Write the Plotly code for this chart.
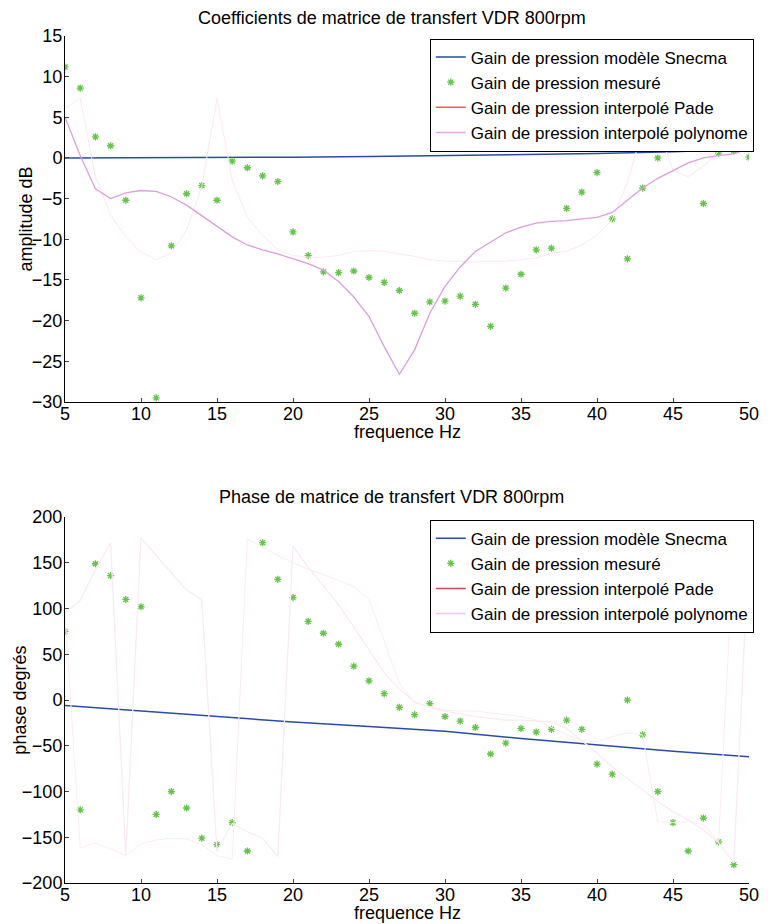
import plotly.graph_objects as go

# frequency grid (Hz)
freq = list(range(5, 51))
freq_model = [5, 10, 15, 20, 25, 30, 35, 40, 45, 50]

# --- amplitude (dB)
amp_model = [0.0, 0.02, 0.05, 0.1, 0.18, 0.28, 0.4, 0.55, 0.75, 1.1]
amp_mesure = [11.2, 8.6, 2.6, 1.5, -5.2, -17.2, -29.5, -10.8, -4.4, -3.4,
              -5.2, -0.4, -1.2, -2.2, -2.9, -9.1, -12.0, -14.0, -14.1, -13.9,
              -14.7, -15.3, -16.3, -19.1, -17.7, -17.6, -17.0, -18.0, -20.7, -16.0,
              -14.3, -11.3, -11.1, -6.2, -4.2, -1.8, -7.5, -12.4, -3.7, 0.0,
              2.8, 3.1, -5.6, 0.6, 0.9, 0.1]
amp_pade = [6.1, 7.4, -2.3, -7.0, -9.7, -11.6, -12.5, -11.7, -8.9, -3.5,
            7.3, -2.7, -7.3, -9.5, -11.3, -12.0, -12.2, -12.2, -12.0, -11.5,
            -11.4, -11.5, -11.8, -12.1, -12.5, -12.7, -12.7, -12.8, -12.7, -12.7,
            -12.5, -12.3, -11.7, -11.5, -10.7, -9.5, -7.6, -3.0, 3.5, 3.8,
            -1.5, -2.3, -1.0, 0.8, 1.2, -0.6]
amp_poly = [5.0, 0.3, -3.8, -5.0, -4.3, -4.0, -4.1, -4.8, -5.8, -7.1,
            -8.5, -9.7, -10.7, -11.3, -11.8, -12.4, -13.0, -13.8, -15.2, -17.1,
            -19.5, -23.2, -26.6, -23.6, -19.1, -15.8, -13.4, -11.5, -10.3, -9.2,
            -8.5, -8.0, -7.8, -7.7, -7.5, -7.3, -6.7, -5.2, -3.7, -2.5,
            -1.5, -0.6, 0.0, 0.3, 0.5, 1.2]

# --- phase (degrés)
ph_model = [-6, -12, -18, -24, -29, -34, -42, -49, -56, -62]
ph_mesure = [75, -120, 149, 136, 110, 102, -125, -100, -118, -151,
             -158, -134, -165, 172, 132, 112, 86, 73, 61, 37,
             21, 7, -8, -16, -4, -18, -23, -30, -59, -47,
             -31, -35, -32, -22, -32, -70, -81, 0, -38, -100,
             -134, -165, -129, -155, -180, 160]
ph_pade = [95, -162, -156, -163, -170, -157, -153, -151, -152, -158,
           -170, -174, 176, 167, 158, 150, 143, 137, 131, 124,
           110, 65, 18, -3, -7, -11, -12, -12, -14, -16,
           -18, -22, -30, -38, -44, -46, -40, -36, -38, -133,
           -134, -133, -136, -155, 170, 160]
ph_poly = [95, 109, 142, 172, -170, 177, 158, 139, 120, 110,
           -165, -135, -144, -151, -171, 168, 145, 125, 104, 80,
           55, 30, 12, -2, -8, -12, -15, -18, -20, -22,
           -22, -23, -24, -31, -44, -58, -73, -86, -98, -111,
           -122, -131, -142, -156, -178, 170]

noms = ["Gain de pression modèle Snecma", "Gain de pression mesuré",
        "Gain de pression interpolé Pade", "Gain de pression interpolé polynome"]

FONT = "Liberation Sans, Arial, sans-serif"
bleu = "#2b4ba6"
vert = "#66c44c"

fig = go.Figure()


def add_panel(fig, xa, ya, leg, model, mesure, pade, poly, pade_col, poly_col, pade_leg, poly_leg):
    fig.add_trace(go.Scatter(x=freq_model, y=model, mode="lines", name=noms[0],
                             line=dict(color=bleu, width=1.5), xaxis=xa, yaxis=ya,
                             legend=leg, legendrank=1))
    fig.add_trace(go.Scatter(x=freq, y=mesure, mode="markers", name=noms[1],
                             marker=dict(symbol="asterisk-open", size=6, color=vert,
                                         line=dict(color=vert, width=1.3)),
                             xaxis=xa, yaxis=ya, legend=leg, legendrank=2))
    fig.add_trace(go.Scatter(x=freq, y=pade, mode="lines", showlegend=False,
                             line=dict(color=pade_col, width=1), xaxis=xa, yaxis=ya))
    fig.add_trace(go.Scatter(x=freq, y=poly, mode="lines", showlegend=False,
                             line=dict(color=poly_col, width=1.3), xaxis=xa, yaxis=ya))
    # legend entries keep the solid colours
    fig.add_trace(go.Scatter(x=[None], y=[None], mode="lines", name=noms[2],
                             line=dict(color=pade_leg, width=1.5), xaxis=xa, yaxis=ya,
                             legend=leg, legendrank=3))
    fig.add_trace(go.Scatter(x=[None], y=[None], mode="lines", name=noms[3],
                             line=dict(color=poly_leg, width=1.5), xaxis=xa, yaxis=ya,
                             legend=leg, legendrank=4))


add_panel(fig, "x", "y", "legend", amp_model, amp_mesure, amp_pade, amp_poly,
          "#fce7ed", "#dc9edc", "#ff5a5a", "#e8a8e8")
add_panel(fig, "x2", "y2", "legend2", ph_model, ph_mesure, ph_pade, ph_poly,
          "#fdebef", "#f9eaf3", "#d04858", "#f0c8ec")

axis_common = dict(ticks="inside", ticklen=4, tickcolor="#444", showline=True,
                   linecolor="black", linewidth=1, showgrid=False, zeroline=False,
                   tickfont=dict(family=FONT, size=18, color="black"))
xax = dict(range=[5, 50], dtick=5, ticklabelstandoff=-5, domain=[0, 1], **axis_common)
yax = dict(ticklabelstandoff=-2, **axis_common)

top_dom = [0.568, 1.0]
bot_dom = [0.0, 0.432]

legend_common = dict(xref="paper", yref="paper", xanchor="right", yanchor="top",
                     bgcolor="white", bordercolor="black", borderwidth=1,
                     font=dict(family=FONT, size=17, color="black"),
                     itemwidth=30, tracegroupgap=0)

# the page body adds 8px around the graph div, so the figure is 8px smaller
fig.update_layout(
    width=763, height=916,
    margin=dict(l=57, r=13, t=28, b=41),
    paper_bgcolor="white", plot_bgcolor="white",
    font=dict(family=FONT, size=18, color="black"),
    xaxis=dict(anchor="y", **xax),
    yaxis=dict(range=[-30, 15], dtick=5, anchor="x", domain=top_dom, **yax),
    xaxis2=dict(anchor="y2", **xax),
    yaxis2=dict(range=[-200, 200], dtick=50, anchor="x2", domain=bot_dom, **yax),
    legend=dict(x=1.007, y=0.997, **legend_common),
    legend2=dict(x=1.007, y=0.429, **legend_common),
    annotations=[
        dict(text="Coefficients de matrice de transfert VDR 800rpm", x=0.478, y=1.0213,
             xref="paper", yref="paper", showarrow=False, xanchor="center", yanchor="middle"),
        dict(text="Phase de matrice de transfert VDR 800rpm", x=0.478, y=0.4557,
             xref="paper", yref="paper", showarrow=False, xanchor="center", yanchor="middle"),
        dict(text="frequence Hz", x=0.5, y=0.5325, xref="paper", yref="paper",
             showarrow=False, xanchor="center", yanchor="middle"),
        dict(text="frequence Hz", x=0.5, y=-0.036, xref="paper", yref="paper",
             showarrow=False, xanchor="center", yanchor="middle"),
        dict(text="amplitude dB", x=-0.0577, y=0.784, xref="paper", yref="paper",
             showarrow=False, textangle=-90, xanchor="center", yanchor="middle"),
        dict(text="phase degrés", x=-0.0664, y=0.216, xref="paper", yref="paper",
             showarrow=False, textangle=-90, xanchor="center", yanchor="middle"),
    ],
)

fig.write_html("out.html")
